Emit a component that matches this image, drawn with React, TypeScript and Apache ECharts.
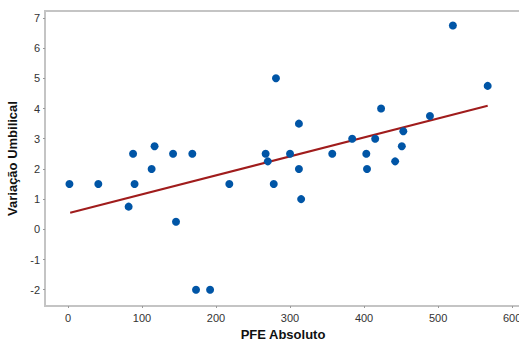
import React, { useEffect, useRef } from "react";
import * as echarts from "echarts";

const pfe = [2, 41, 82, 88, 90, 113, 117, 142, 146, 168, 173, 192, 218, 267, 270, 278, 281, 300, 312, 312, 315, 357, 384, 403, 404, 415, 423, 442, 451, 453, 489, 520, 567];
const variacao = [1.5, 1.5, 0.75, 2.5, 1.5, 2.0, 2.75, 2.5, 0.25, 2.5, -2, -2, 1.5, 2.5, 2.25, 1.5, 5.0, 2.5, 3.5, 2.0, 1.0, 2.5, 3.0, 2.5, 2.0, 3.0, 4.0, 2.25, 2.75, 3.25, 3.75, 6.75, 4.75];
const fitX = [3, 567];
const fitY = [0.55, 4.09];
const xTicks = [0, 100, 200, 300, 400, 500, 600];
const yTicks = [-2, -1, 0, 1, 2, 3, 4, 5, 6, 7];

export default function App() {
  const ref = useRef<HTMLDivElement>(null);
  useEffect(() => {
    if (!ref.current) return;
    const chart = echarts.init(ref.current, undefined, { renderer: "svg" });
    const font = "Liberation Sans, Arial, sans-serif";
    const axisColor = "#c4c4c4";
    chart.setOption({
      animation: false,
      grid: {
        left: 45,
        right: -2,
        top: 11,
        bottom: 35,
        containLabel: false,
        outerBoundsMode: "none",
        show: true,
        borderColor: axisColor,
        borderWidth: 2,
      },
      xAxis: {
        type: "value",
        min: -31,
        max: 612,
        name: "PFE Absoluto",
        nameLocation: "middle",
        nameGap: 19,
        nameTextStyle: { fontFamily: font, fontWeight: "bold", fontSize: 13, color: "#111" },
        splitLine: { show: false },
        axisLine: { show: true, onZero: false, lineStyle: { color: axisColor, width: 2 } },
        axisTick: { show: true, length: 2, customValues: xTicks, lineStyle: { color: "#999" } },
        axisLabel: { customValues: xTicks, fontFamily: font, fontSize: 11, color: "#333", margin: 6 },
      },
      yAxis: {
        type: "value",
        min: -2.54,
        max: 7.23,
        name: "Variação Umbilical",
        nameLocation: "middle",
        nameGap: 25,
        nameTextStyle: { fontFamily: font, fontWeight: "bold", fontSize: 13, color: "#111" },
        splitLine: { show: false },
        axisLine: { show: true, onZero: false, lineStyle: { color: axisColor, width: 2 } },
        axisTick: { show: true, length: 2, customValues: yTicks, lineStyle: { color: "#999" } },
        axisLabel: { customValues: yTicks, fontFamily: font, fontSize: 11, color: "#333", margin: 5 },
      },
      series: [
        {
          type: "line",
          data: fitX.map((x, i) => [x, fitY[i]]),
          showSymbol: false,
          symbol: "none",
          lineStyle: { color: "#a01c1c", width: 2 },
          z: 2,
        },
        {
          type: "scatter",
          data: pfe.map((x, i) => [x, variacao[i]]),
          symbolSize: 8,
          itemStyle: { color: "#0055a6", opacity: 1 },
          z: 3,
        },
      ],
    });
    return () => chart.dispose();
  }, []);
  return (
    <div
      ref={ref}
      style={{ position: "absolute", left: 0, top: 0, width: 519, height: 341, background: "#fff" }}
    />
  );
}
